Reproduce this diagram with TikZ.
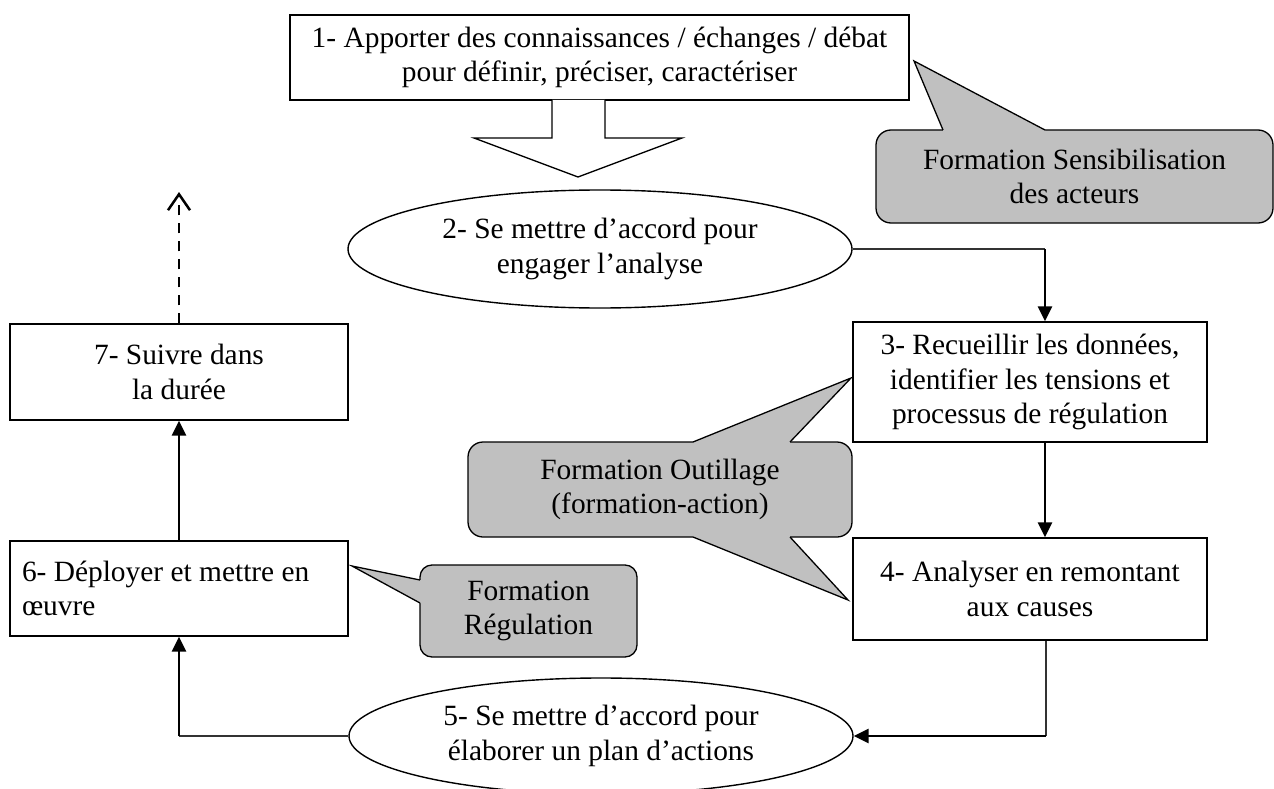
\documentclass[tikz,border=0pt]{standalone}
\usepackage{fontspec}
\setmainfont{Liberation Serif}
\usetikzlibrary{arrows.meta,shapes.geometric}
\definecolor{callgray}{RGB}{192,192,192}
\begin{document}
\begin{tikzpicture}[x=1pt,y=-1pt,
  every node/.style={font=\fontsize{29.4}{34.5}\selectfont},
  box/.style={draw=black, line width=1.3pt, fill=white, inner sep=0pt, align=center},
  oval/.style={ellipse, draw=black, line width=1.4pt, fill=white, inner sep=0pt, align=center},
  callout/.style={draw=black, line width=1.3pt, fill=callgray, inner sep=0pt, align=center},
  calledge/.style={draw=black, line width=1.3pt},
  thinline/.style={line width=1.6pt, draw=black!80},
  arrowline/.style={line width=2.6pt, draw=black, -{Triangle[length=15pt,width=14pt]}},
  dashline/.style={line width=2.5pt, draw=black, dash pattern=on 10pt off 8pt, -{Straight Barb[length=16pt,width=22pt]}}
]
\useasboundingbox (0,0) rectangle (1274,789);

% box 1 and block arrow
\node[box, minimum width=619pt, minimum height=85pt] (b1) at (599.5,57.5)
  {1- Apporter des connaissances / échanges / débat\\pour définir, préciser, caractériser};
\draw[line width=1.3pt, fill=white] (552,100) -- (552,138) -- (474,138) -- (578,177) -- (682,138) -- (605,138) -- (605,100);

% callout 1
\node[callout, rounded corners=15pt, minimum width=397pt, minimum height=93pt] (k1) at (1074.5,176.5)
  {Formation Sensibilisation\\des acteurs};
\fill[callgray] (943,133) -- (943,130) -- (914,61) -- (1045,130) -- (1045,133) -- cycle;
\draw[calledge] (943,130) -- (914,61) -- (1045,130);

% ellipse 2
\node[oval, minimum width=504pt, minimum height=118pt] (e2) at (600,249)
  {2- Se mettre d’accord pour\\engager l’analyse};

% boxes 3 and 4
\node[box, minimum width=354pt, minimum height=120pt] (b3) at (1030,382)
  {3- Recueillir les données,\\identifier les tensions et\\processus de régulation};
\node[box, minimum width=354pt, minimum height=102pt] (b4) at (1030,589)
  {4- Analyser en remontant\\aux causes};

% callout Outillage
\node[callout, rounded corners=15pt, minimum width=384pt, minimum height=95pt] (k2) at (660,489.5)
  {Formation Outillage\\(formation-action)};
\fill[callgray] (693,445) -- (693,442) -- (851,378) -- (790,442) -- (790,445) -- cycle;
\draw[calledge] (693,442) -- (851,378) -- (790,442);
\fill[callgray] (693,534) -- (693,537) -- (848,600) -- (790,537) -- (790,534) -- cycle;
\draw[calledge] (693,537) -- (848,600) -- (790,537);

% boxes 7 and 6
\node[box, minimum width=338pt, minimum height=96pt] (b7) at (179,372)
  {7- Suivre dans\\la durée};
\node[box, minimum width=338pt, minimum height=95pt, text width=314pt, inner xsep=12pt, align=flush left] (b6) at (179,588.5)
  {6- Déployer et mettre en\\œuvre};

% callout Regulation
\node[callout, rounded corners=12pt, minimum width=217pt, minimum height=92pt] (k3) at (528.5,611)
  {Formation\\Régulation};
\fill[callgray] (423,580) -- (420,580) -- (352,566) -- (420,603) -- (423,603) -- cycle;
\draw[calledge] (420,580) -- (352,566) -- (420,603);

% ellipse 5
\node[oval, minimum width=504pt, minimum height=116pt] (e5) at (601,736)
  {5- Se mettre d’accord pour\\élaborer un plan d’actions};

% connectors
\coordinate (j1) at (1045,249);
\draw[thinline] (e2.east) -- (j1);
\draw[arrowline] (j1) -- (j1 |- b3.north);
\draw[arrowline] (b3.south -| j1) -- (b4.north -| j1);
\coordinate (j2) at (1046,736);
\draw[thinline] (b4.south -| j2) -- (j2);
\draw[arrowline] (j2) -- (e5.east);
\coordinate (j3) at (179,736);
\draw[thinline] (e5.west) -- (j3);
\draw[arrowline] (j3) -- (b6.south);
\draw[arrowline] (b6.north) -- (b7.south);
\coordinate (dtip) at (179,192);
\draw[dashline] (b7.north) -- (dtip);
\end{tikzpicture}
\end{document}
